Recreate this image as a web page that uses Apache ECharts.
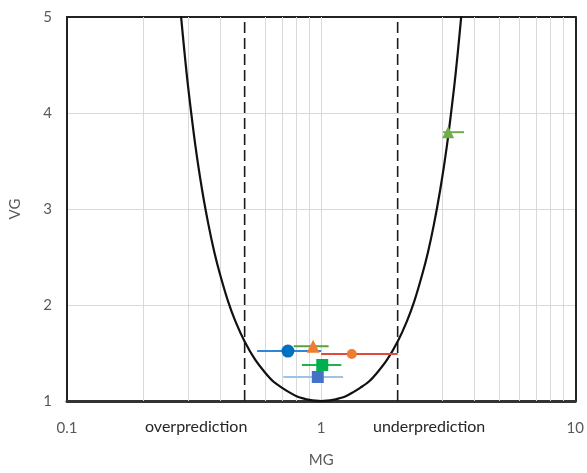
<!DOCTYPE html>
<html><head><meta charset="utf-8">
<script src="https://cdn.jsdelivr.net/npm/echarts@6/dist/echarts.min.js"></script>
<style>html,body{margin:0;padding:0;background:#fff}#c{width:587px;height:473px}</style>
</head><body><div id="c"></div>
<script>
// ---- data ----
var seriesNames = ['BURRO','COYOTE','FLADIS','DESERT TORTOISE','GOLDFISH','THORNEY'];
var mgValues   = [1.32, 0.74, 1.01, 0.97, 3.16, 0.93];
var vgValues   = [1.49, 1.52, 1.375, 1.25, 3.80, 1.57];
var mgLow      = [1.00, 0.56, 0.84, 0.71, 3.02, 0.78];
var mgHigh     = [2.00, 1.00, 1.20, 1.22, 3.65, 1.07];
// "Minimum" VG curve points (MG, VG)
var curveMG = [0.28,0.29,0.30,0.32,0.34,0.36,0.38,0.40,0.43,0.46,0.50,0.55,0.60,0.65,0.70,0.75,0.80,0.85,0.90,0.95,1.00,
               1.053,1.111,1.176,1.25,1.333,1.429,1.538,1.667,1.818,2.00,2.174,2.326,2.50,2.632,2.778,2.941,3.125,3.333,3.448,3.571];
var curveVG = [5.05,4.63,4.26,3.66,3.20,2.84,2.55,2.32,2.04,1.83,1.62,1.43,1.30,1.20,1.14,1.09,1.05,1.027,1.011,1.003,1.00,
               1.003,1.011,1.027,1.05,1.09,1.14,1.20,1.30,1.43,1.62,1.83,2.04,2.32,2.55,2.84,3.20,3.66,4.26,4.63,5.05];
var dashedMG = [0.5, 2];
var xGridValues = [0.2,0.3,0.4,0.6,0.7,0.8,0.9,1,3,4,5,6,7,8,9];
var xTickLabels = [0.1, 1, 10];
var yTickLabels = [1, 2, 3, 4, 5];
var curveName = '"Minimum" VG';
var xMin = 0.1, xMax = 10, yMin = 1, yMax = 5;

// ---- styles ----
var markerColors = ['#ed7d31','#0070c0','#00b050','#4472c4','#70ad47','#ed7d31'];
var barColors    = ['#e0493f','#2f86d6','#22b14c','#9dc3e6','#70ad47','#5e9e45'];
var symbols      = ['circle','circle','rect','rect','triangle','triangle'];
var sizes        = [10, 13, 12, 12, 12, 13];
var FONT = 'Lato, "Liberation Sans", sans-serif';

var series = [];
series.push({
  type:'line', data:[], silent:true, z:1,
  markLine:{ silent:true, symbol:'none', label:{show:false}, z:1,
    lineStyle:{color:'#d9d9d9', width:1, type:'solid'},
    data: xGridValues.map(function(v){return {xAxis:v};}) }
});
dashedMG.forEach(function(v){
  series.push({ type:'line', data:[[v,yMin],[v,yMax]], symbol:'none', silent:true, z:3,
    lineStyle:{color:'#1a1a1a', width:1.6, type:[11,5]} });
});
series.push({ name:curveName, type:'line', data:curveMG.map(function(m,i){return [m,curveVG[i]];}),
  symbol:'none', smooth:0.3, clip:true, z:4, lineStyle:{color:'#111', width:2.2}, itemStyle:{color:'#111'} });
seriesNames.forEach(function(n,i){
  series.push({ type:'line', data:[[mgLow[i],vgValues[i]],[mgHigh[i],vgValues[i]]], symbol:'none', silent:true, z:5,
    lineStyle:{color:barColors[i], width:2} });
});
seriesNames.forEach(function(n,i){
  series.push({ name:n, type:'scatter', data:[[mgValues[i],vgValues[i]]], symbol:symbols[i], symbolSize:sizes[i], z:6,
    itemStyle:{color:markerColors[i], opacity:1} });
});

var chart = echarts.init(document.getElementById('c'), null, {renderer:'canvas'});
chart.setOption({
  animation:false,
  backgroundColor:'#fff',
  grid:{left:65, right:8, top:17, bottom:62},
  xAxis:[{ type:'log', logBase:10, min:xMin, max:xMax, name:'MG', nameLocation:'middle', nameGap:52,
    nameTextStyle:{color:'#595959', fontSize:15, fontFamily:FONT},
    axisLine:{show:true, onZero:false, lineStyle:{color:'#333', width:3}},
    axisTick:{show:false}, splitLine:{show:false},
    axisLabel:{color:'#595959', fontSize:15, fontFamily:FONT, margin:20,
      formatter:function(v){ var r=Math.round(v*10)/10; return xTickLabels.indexOf(r)>=0 ? String(r) : ''; }} },
   { type:'log', logBase:10, min:xMin, max:xMax, position:'top', axisLine:{show:true, onZero:false, lineStyle:{color:'#222', width:2}},
     axisTick:{show:false}, axisLabel:{show:false}, splitLine:{show:false} }],
  yAxis:[{ type:'value', min:yMin, max:yMax, interval:1, name:'VG', nameLocation:'middle', nameGap:44,
    nameTextStyle:{color:'#595959', fontSize:15, fontFamily:FONT},
    axisLine:{show:true, onZero:false, lineStyle:{color:'#222', width:2}}, axisTick:{show:false},
    splitLine:{show:true, lineStyle:{color:'#d9d9d9', width:1}},
    axisLabel:{color:'#595959', fontSize:15, fontFamily:FONT, margin:15,
      formatter:function(v){ return yTickLabels.indexOf(v)>=0 ? String(v) : ''; }} },
   { type:'value', min:yMin, max:yMax, interval:1, position:'right',
     axisLine:{show:true, onZero:false, lineStyle:{color:'#222', width:2}},
     axisTick:{show:false}, axisLabel:{show:false}, splitLine:{show:false} }],
  graphic:[
    {type:'text', left:145, top:419, style:{text:'overprediction', fill:'#262626', font:'16px '+FONT}},
    {type:'text', left:373, top:419, style:{text:'underprediction', fill:'#262626', font:'16px '+FONT}}
  ],
  series: series
});
</script></body></html>
